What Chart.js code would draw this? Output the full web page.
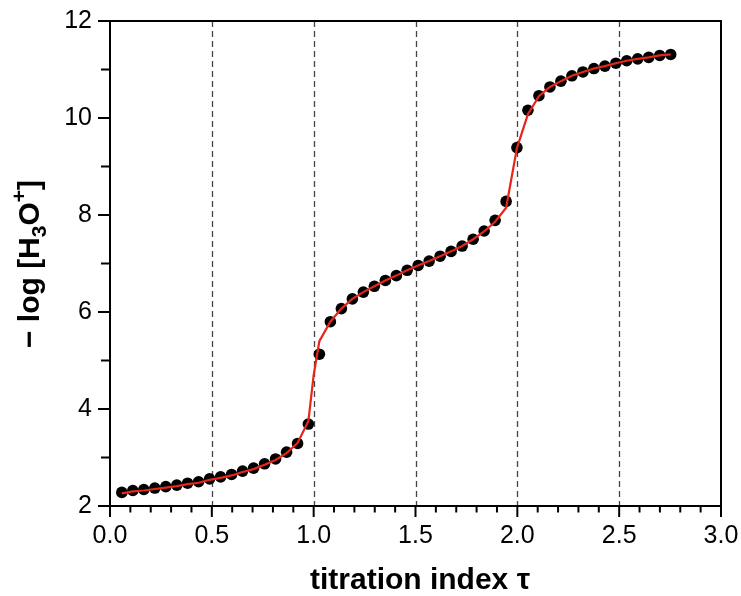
<!DOCTYPE html>
<html>
<head>
<meta charset="utf-8">
<script src="https://cdn.jsdelivr.net/npm/chart.js@4.4.1/dist/chart.umd.min.js"></script>
<style>
  html, body { margin: 0; padding: 0; background: #fff; }
</style>
</head>
<body>
<canvas id="titration" width="741" height="596"></canvas>
<script>
// measured points (titration index vs -log[H3O+])
const tau = [0.058, 0.112, 0.166, 0.220, 0.274, 0.328, 0.381, 0.435, 0.489, 0.543, 0.597, 0.651, 0.705, 0.759, 0.813, 0.867, 0.921, 0.974,
  1.028, 1.082, 1.136, 1.190, 1.244, 1.298, 1.352, 1.406, 1.459, 1.513, 1.567, 1.621, 1.675, 1.729, 1.783, 1.837, 1.891, 1.945,
  1.998, 2.052, 2.106, 2.160, 2.214, 2.268, 2.322, 2.376, 2.430, 2.484, 2.537, 2.591, 2.645, 2.699, 2.753];
const logH = [2.28, 2.32, 2.34, 2.37, 2.40, 2.43, 2.47, 2.50, 2.56, 2.60, 2.65, 2.72, 2.78, 2.87, 2.97, 3.11, 3.29, 3.69,
  5.13, 5.80, 6.07, 6.27, 6.41, 6.53, 6.65, 6.75, 6.86, 6.96, 7.05, 7.15, 7.25, 7.36, 7.50, 7.67, 7.89, 8.28,
  9.39, 10.16, 10.46, 10.64, 10.76, 10.87, 10.95, 11.02, 11.07, 11.13, 11.18, 11.22, 11.25, 11.29, 11.31];

// fitted curve (red)
const fitTau = [0.058, 0.112, 0.166, 0.220, 0.274, 0.328, 0.381, 0.435, 0.489, 0.543, 0.597, 0.651, 0.705, 0.759, 0.813, 0.867, 0.921, 0.974,
  1.000, 1.028, 1.082, 1.136, 1.190, 1.244, 1.298, 1.352, 1.406, 1.459, 1.513, 1.567, 1.621, 1.675, 1.729, 1.783, 1.837, 1.891, 1.945,
  1.998, 2.052, 2.106, 2.160, 2.214, 2.268, 2.322, 2.376, 2.430, 2.484, 2.537, 2.591, 2.645, 2.699, 2.753];
const fitLogH = [2.26, 2.30, 2.32, 2.35, 2.38, 2.41, 2.45, 2.48, 2.54, 2.58, 2.63, 2.70, 2.76, 2.85, 2.95, 3.09, 3.30, 3.75,
  4.70, 5.40, 5.80, 6.07, 6.27, 6.41, 6.53, 6.65, 6.75, 6.86, 6.96, 7.05, 7.15, 7.25, 7.36, 7.50, 7.66, 7.86, 8.15,
  9.38, 10.08, 10.45, 10.64, 10.76, 10.87, 10.95, 11.02, 11.07, 11.13, 11.18, 11.22, 11.25, 11.29, 11.31];

const xLabels = [0.0, 0.5, 1.0, 1.5, 2.0, 2.5, 3.0];
const yLabels = [2, 4, 6, 8, 10, 12];
const dashedAt = [0.5, 1.0, 1.5, 2.0, 2.5];

const FONT = '"Liberation Sans", Arial, Helvetica, sans-serif';

// frame, ticks, dashed guides and axis titles
const decor = {
  id: 'decor',
  beforeDatasetsDraw(chart) {
    const { ctx, chartArea: a, scales: { x } } = chart;
    ctx.save();
    ctx.strokeStyle = '#444';
    ctx.lineWidth = 1.3;
    ctx.setLineDash([6, 4]);
    dashedAt.forEach(v => {
      const px = Math.round(x.getPixelForValue(v)) + 0.5;
      ctx.beginPath();
      ctx.moveTo(px, a.top);
      ctx.lineTo(px, a.bottom);
      ctx.stroke();
    });
    ctx.restore();
  },
  afterDraw(chart) {
    const { ctx, chartArea: a, scales: { x, y } } = chart;
    ctx.save();
    ctx.strokeStyle = '#000';
    ctx.lineWidth = 2;
    ctx.strokeRect(a.left, a.top, a.right - a.left, a.bottom - a.top);

    // x ticks, every 0.1, longer at 0.5
    for (let k = 0; k <= 30; k++) {
      const px = x.getPixelForValue(k / 10);
      const len = k % 5 === 0 ? 11 : 6.5;
      ctx.beginPath();
      ctx.moveTo(px, a.bottom);
      ctx.lineTo(px, a.bottom + len);
      ctx.stroke();
    }
    // y ticks, every 1, longer at even values
    for (let v = 2; v <= 12; v++) {
      const py = y.getPixelForValue(v);
      const len = v % 2 === 0 ? 12 : 9;
      ctx.beginPath();
      ctx.moveTo(a.left, py);
      ctx.lineTo(a.left - len, py);
      ctx.stroke();
    }

    // x title
    ctx.fillStyle = '#000';
    ctx.font = 'bold 30px ' + FONT;
    ctx.textAlign = 'center';
    ctx.textBaseline = 'alphabetic';
    ctx.fillText('titration index τ', 420, 589);

    // y title with sub/superscript
    const parts = [
      { t: '\u2212 log [H', size: 30, dy: 0 },
      { t: '3', size: 21, dy: 7 },
      { t: 'O', size: 30, dy: 0 },
      { t: '+', size: 21, dy: -13 },
      { t: ']', size: 30, dy: 0 }
    ];
    let total = 0;
    parts.forEach(p => {
      ctx.font = 'bold ' + p.size + 'px ' + FONT;
      p.w = ctx.measureText(p.t).width;
      total += p.w;
    });
    ctx.translate(39, 264 + total / 2);
    ctx.rotate(-Math.PI / 2);
    ctx.textAlign = 'left';
    let cx = 0;
    parts.forEach(p => {
      ctx.font = 'bold ' + p.size + 'px ' + FONT;
      ctx.fillText(p.t, cx, p.dy);
      cx += p.w;
    });
    ctx.restore();
  }
};

new Chart(document.getElementById('titration'), {
  type: 'scatter',
  data: {
    datasets: [
      {
        label: 'fit',
        data: fitTau.map((t, i) => ({ x: t, y: fitLogH[i] })),
        showLine: true,
        borderColor: '#e8251b',
        borderWidth: 2.2,
        pointRadius: 0,
        tension: 0,
        order: 0
      },
      {
        label: 'data',
        data: tau.map((t, i) => ({ x: t, y: logH[i] })),
        backgroundColor: '#000',
        borderWidth: 0,
        pointRadius: 5.8,
        order: 1
      }
    ]
  },
  options: {
    responsive: false,
    devicePixelRatio: 1,
    animation: false,
    layout: { padding: { left: 0, top: 21, right: 20, bottom: 0 } },
    plugins: {
      legend: { display: false },
      tooltip: { enabled: false }
    },
    scales: {
      x: {
        type: 'linear',
        min: 0,
        max: 3,
        grid: { display: false, drawTicks: false },
        border: { display: false },
        ticks: {
          stepSize: 0.1,
          autoSkip: false,
          maxRotation: 0,
          padding: 15,
          color: '#000',
          font: { family: FONT, size: 25 },
          callback: v => {
            const l = xLabels.find(t => Math.abs(t - v) < 1e-6);
            return l === undefined ? '' : l.toFixed(1);
          }
        },
        afterFit: s => { s.height = 90; s.paddingLeft = 0; s.paddingRight = 0; }
      },
      y: {
        min: 2,
        max: 12,
        grid: { display: false, drawTicks: false },
        border: { display: false },
        ticks: {
          stepSize: 1,
          autoSkip: false,
          padding: 18,
          color: '#000',
          font: { family: FONT, size: 25 },
          callback: v => yLabels.includes(v) ? String(v) : ''
        },
        afterFit: s => { s.width = 110; s.paddingTop = 0; s.paddingBottom = 0; }
      }
    }
  },
  plugins: [decor]
});
</script>
</body>
</html>
